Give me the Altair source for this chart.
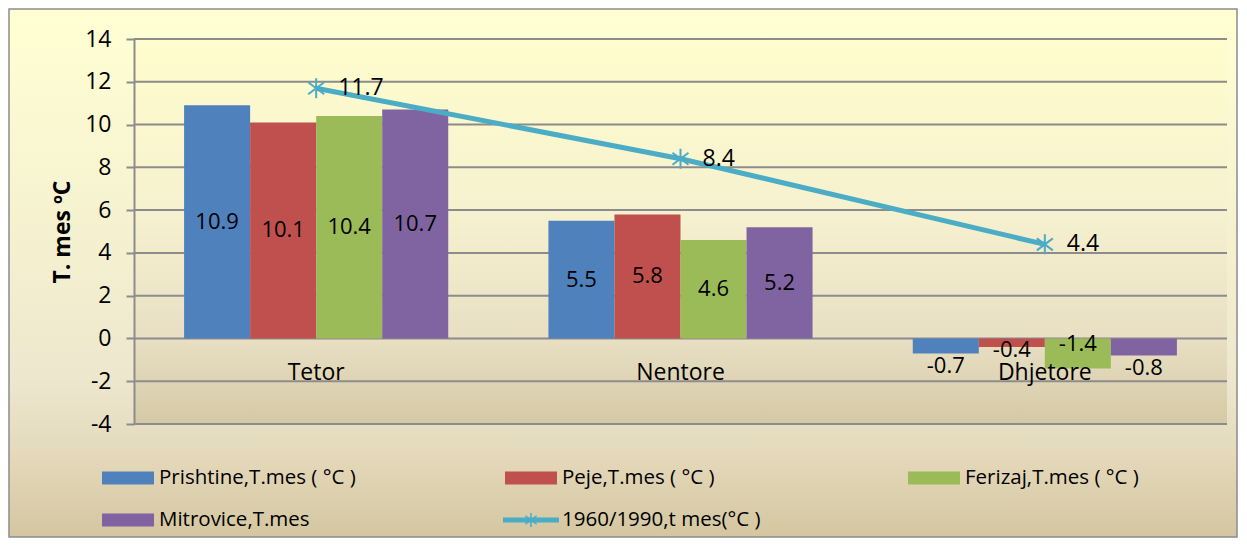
import altair as alt
import pandas as pd

# ---------------- data ----------------
categories = ["Tetor", "Nentore", "Dhjetore"]
series_names = ["Prishtine,T.mes ( °C )", "Peje,T.mes ( °C )",
                "Ferizaj,T.mes ( °C )", "Mitrovice,T.mes"]
prishtine = [10.9, 5.5, -0.7]
peje = [10.1, 5.8, -0.4]
ferizaj = [10.4, 4.6, -1.4]
mitrovice = [10.7, 5.2, -0.8]
line_name = "1960/1990,t mes(°C )"
normal_1960_1990 = [11.7, 8.4, 4.4]
y_ticks = [-4, -2, 0, 2, 4, 6, 8, 10, 12, 14]
y_title = "T. mes ºC"

bar_colors = ["#4F81BD", "#C0504D", "#9BBB59", "#8064A2"]
line_color = "#4BACC6"

legend_names = series_names[:3] + [series_names[3], line_name]
legend_cols = [0, 1, 2, 0, 1]
legend_rows = [0, 0, 0, 1, 1]
legend_kind = ["bar", "bar", "bar", "bar", "line"]

# ---------------- tables ----------------
all_series = [prishtine, peje, ferizaj, mitrovice]
bars_df = pd.DataFrame([
    {"month": m, "series": s, "value": vals[i]}
    for s, vals in zip(series_names, all_series)
    for i, m in enumerate(categories)
])
line_df = pd.DataFrame({"month": categories, "normal": normal_1960_1990})
cat_df = pd.DataFrame({"month": categories})
tick_df = pd.DataFrame({"tick": y_ticks})
legend_df = pd.DataFrame({"name": legend_names, "col": legend_cols,
                          "row": legend_rows, "kind": legend_kind})
dummy = pd.DataFrame({"a": [0]})

FONT = "Open Sans"
W, H = 1093, 385
LEG_H = 113
GRID = "#8C8C8C"
MINUS = "\u2212"

asterisk = "M0,-1L0,1M-0.8,-0.6L0.8,0.6M-0.8,0.6L0.8,-0.6"
swatch_path = "M0,-0.25H2V0.25H0Z"
line_swatch_path = "M0,-0.09H2V0.09H0Z"

yaxis = alt.Axis(values=y_ticks, grid=False, domainColor=GRID, domainWidth=2,
                 tickColor=GRID, tickWidth=2, tickSize=8,
                 labelFont=FONT, labelFontSize=23, labelColor="black",
                 labelPadding=15,
                 labelExpr=f"replace(datum.label, '{MINUS}', '-')",
                 title=y_title, titleFont=FONT,
                 titleFontSize=23, titleFontWeight="bold", titleColor="black",
                 titlePadding=10, zindex=1)
y_scale = alt.Scale(domain=[-4, 14], nice=False, zero=False)
x_enc = alt.X("month:N", sort=categories,
              scale=alt.Scale(paddingInner=0.275, paddingOuter=0.1375),
              axis=None)
xoff = alt.XOffset("series:N", sort=series_names,
                   scale=alt.Scale(paddingInner=0, paddingOuter=0))

chart_grad = alt.LinearGradient(
    gradient="linear", x1=0, x2=0, y1=0, y2=1,
    stops=[alt.GradientStop(color="#FFFFD3", offset=0),
           alt.GradientStop(color="#F6F2D0", offset=0.4),
           alt.GradientStop(color="#EDE7CE", offset=0.7),
           alt.GradientStop(color="#E6DEC2", offset=0.8),
           alt.GradientStop(color="#E3D7B8", offset=0.86),
           alt.GradientStop(color="#D4C6A0", offset=1)])
plot_grad = alt.LinearGradient(
    gradient="linear", x1=0, x2=0, y1=0, y2=1,
    stops=[alt.GradientStop(color="#FFFDCD", offset=0),
           alt.GradientStop(color="#F6F1CF", offset=0.45),
           alt.GradientStop(color="#E8DFC4", offset=0.78),
           alt.GradientStop(color="#D5C9A5", offset=1)])

chart_bg = alt.Chart(dummy).mark_rect(fill=chart_grad, stroke=GRID, strokeWidth=1.5).encode(
    x=alt.value(-125), x2=alt.value(W + 10), y=alt.value(-30), y2=alt.value(H + LEG_H))
plot_bg = alt.Chart(dummy).mark_rect(fill=plot_grad).encode(
    x=alt.value(0), x2=alt.value(W), y=alt.value(0), y2=alt.value(H))

grid = alt.Chart(tick_df).mark_rule(color=GRID, strokeWidth=2).encode(
    y=alt.Y("tick:Q", scale=y_scale, axis=yaxis),
    x=alt.value(0), x2=alt.value(W))

bars = alt.Chart(bars_df).mark_bar().encode(
    x=x_enc, xOffset=xoff,
    y=alt.Y("value:Q", scale=y_scale, axis=yaxis),
    y2=alt.datum(0),
    color=alt.Color("series:N", sort=series_names,
                    scale=alt.Scale(domain=series_names, range=bar_colors),
                    legend=None))

bar_labels = alt.Chart(bars_df).transform_calculate(
    label_y=("datum.value >= 0 ? datum.value / 2 : "
             "(datum.value < -1 ? datum.value * 0.2 : "
             "(datum.value > -0.5 ? datum.value - 0.15 : datum.value - 0.6))"),
    label=f"replace(format(datum.value, '.1f'), '{MINUS}', '-')"
).mark_text(font=FONT, fontSize=22, color="black", baseline="middle").encode(
    x=x_enc, xOffset=xoff,
    y=alt.Y("label_y:Q", scale=y_scale, axis=yaxis),
    text="label:N")

line = alt.Chart(line_df).mark_line(color=line_color, strokeWidth=5).encode(
    x=x_enc, y=alt.Y("normal:Q", scale=y_scale, axis=yaxis))
points = alt.Chart(line_df).mark_point(shape=asterisk, filled=False, size=400,
                                       strokeWidth=2, color=line_color, opacity=1).encode(
    x=x_enc, y=alt.Y("normal:Q", scale=y_scale, axis=yaxis))
line_labels = alt.Chart(line_df).mark_text(font=FONT, fontSize=23, color="black",
                                           align="left", baseline="middle", dx=22).encode(
    x=x_enc, y=alt.Y("normal:Q", scale=y_scale, axis=yaxis),
    text=alt.Text("normal:Q", format=".1f"))

cat_labels = alt.Chart(cat_df).mark_text(font=FONT, fontSize=23, color="black",
                                         baseline="alphabetic", dy=42).encode(
    x=x_enc, y=alt.datum(0), text="month:N")

main = alt.layer(chart_bg, plot_bg, grid, bars, bar_labels, line, points,
                 line_labels, cat_labels).properties(width=W, height=H)

# ---------------- legend panel ----------------
leg_x = alt.X("col:Q", scale=alt.Scale(domain=[0, 2], range=[-32, 774]), axis=None)
leg_y = alt.Y("row:Q", scale=alt.Scale(domain=[0, 1], range=[54, 96]), axis=None)
leg_base = alt.Chart(legend_df)

sw_bar = leg_base.transform_filter("datum.kind == 'bar'").mark_point(
    shape=swatch_path, filled=True, size=2704, opacity=1, strokeWidth=0).encode(
    x=leg_x, y=leg_y,
    color=alt.Color("name:N", scale=alt.Scale(domain=series_names, range=bar_colors),
                    legend=None))
sw_line = leg_base.transform_filter("datum.kind == 'line'").mark_point(
    shape=line_swatch_path, filled=True, size=3136, opacity=1, strokeWidth=0,
    color=line_color, xOffset=-2).encode(x=leg_x, y=leg_y)
sw_star = leg_base.transform_filter("datum.kind == 'line'").mark_point(
    shape=asterisk, filled=False, size=196, opacity=1, strokeWidth=1.5,
    color=line_color, xOffset=26).encode(x=leg_x, y=leg_y)
leg_text = leg_base.mark_text(font=FONT, fontSize=20.5, color="black", align="left",
                              baseline="middle", dx=57).encode(
    x=leg_x, y=leg_y, text="name:N")

legend = alt.layer(sw_bar, sw_line, sw_star, leg_text).properties(width=W, height=LEG_H)

chart = alt.vconcat(main, legend, spacing=0, bounds="flush").properties(
    padding=0).configure_view(stroke=None)

chart.save("out.html", embed_options={"renderer": "svg", "actions": False})
